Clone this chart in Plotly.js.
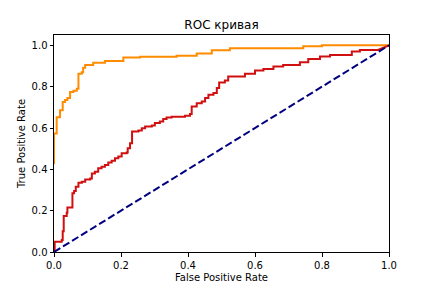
<!DOCTYPE html>
<html>
<head>
<meta charset="utf-8">
<script src="https://cdn.plot.ly/plotly-3.0.1.min.js"></script>
<style>html,body{margin:0;padding:0;background:#fff;}#chart{width:432px;height:288px;}</style>
</head>
<body>
<div id="chart"></div>
<script>
// Orange ROC curve (staircase vertices: top of each vertical step)
var orangeFpr = [0, 0, 0.008, 0.018, 0.026, 0.033, 0.040, 0.048, 0.058, 0.068, 0.073, 0.083, 0.087, 0.093, 0.117, 0.152, 0.207, 0.257, 0.366, 0.426, 0.471, 0.525, 0.744, 0.800, 1.0];
var orangeTpr = [0.425, 0.573, 0.652, 0.686, 0.726, 0.735, 0.745, 0.774, 0.780, 0.790, 0.863, 0.870, 0.892, 0.905, 0.916, 0.924, 0.941, 0.945, 0.950, 0.961, 0.976, 0.986, 0.995, 1.0, 1.0];

// Red ROC curve
var redFpr = [0, 0.002, 0.023, 0.026, 0.029, 0.038, 0.040, 0.055, 0.060, 0.065, 0.073, 0.083, 0.093, 0.108, 0.113, 0.122, 0.132, 0.142, 0.152, 0.162, 0.172, 0.182, 0.192, 0.202, 0.217, 0.220, 0.227, 0.233, 0.252, 0.262, 0.272, 0.292, 0.301, 0.316, 0.326, 0.336, 0.351, 0.391, 0.406, 0.411, 0.426, 0.441, 0.451, 0.461, 0.476, 0.486, 0.493, 0.510, 0.520, 0.570, 0.600, 0.625, 0.655, 0.684, 0.734, 0.759, 0.794, 0.824, 0.889, 0.913, 0.967, 1.0];
var redTpr = [0, 0.050, 0.058, 0.100, 0.174, 0.190, 0.215, 0.284, 0.295, 0.316, 0.335, 0.340, 0.351, 0.356, 0.380, 0.388, 0.405, 0.413, 0.421, 0.433, 0.442, 0.454, 0.462, 0.478, 0.482, 0.502, 0.526, 0.583, 0.588, 0.599, 0.607, 0.612, 0.624, 0.631, 0.643, 0.651, 0.655, 0.659, 0.668, 0.704, 0.720, 0.728, 0.745, 0.761, 0.769, 0.793, 0.820, 0.830, 0.849, 0.862, 0.878, 0.886, 0.897, 0.905, 0.918, 0.934, 0.946, 0.953, 0.970, 0.978, 0.978, 1.0];

// Chance diagonal
var diagX = [0, 1];
var diagY = [0, 1];

var tickVals = [0, 0.2, 0.4, 0.6, 0.8, 1.0];
var tickText = ['0.0', '0.2', '0.4', '0.6', '0.8', '1.0'];

// Build staircase vertices (horizontal then vertical); last segment drawn straight
function stairs(xs, ys, diagonalLast) {
  var vx = [xs[0]], vy = [ys[0]];
  for (var i = 1; i < xs.length; i++) {
    var last = (i === xs.length - 1) && diagonalLast;
    if (!last) { vx.push(xs[i]); vy.push(ys[i - 1]); }
    vx.push(xs[i]); vy.push(ys[i]);
  }
  return {x: vx, y: vy};
}

var o = stairs(orangeFpr, orangeTpr, false);
var r = stairs(redFpr, redTpr, true);

var font = 'DejaVu Sans, sans-serif';
var traces = [
  {x: o.x, y: o.y, mode: 'lines', line: {color: '#ff8c00', width: 2}, hoverinfo: 'skip'},
  {x: r.x, y: r.y, mode: 'lines', line: {color: '#d01010', width: 2}, hoverinfo: 'skip'},
  {x: diagX, y: diagY, mode: 'lines', line: {color: '#000080', width: 2, dash: '7.4px,3.2px'}, hoverinfo: 'skip'}
];

var axisCommon = {
  showgrid: false, zeroline: false, showline: true, mirror: true,
  linecolor: '#000', linewidth: 1,
  ticks: 'outside', ticklen: 3.5, tickwidth: 1, tickcolor: '#000',
  tickvals: tickVals, ticktext: tickText,
  tickfont: {family: font, size: 10, color: '#000'},
  automargin: false
};

var layout = {
  width: 432, height: 288,
  margin: {l: 54, r: 43, t: 35, b: 36, pad: 0},
  paper_bgcolor: '#fff', plot_bgcolor: '#fff',
  showlegend: false,
  title: {text: 'ROC кривая', font: {family: font, size: 12, color: '#000'}, x: 0.5, xref: 'paper', xanchor: 'center', y: 0.913, yref: 'container', yanchor: 'middle'},
  xaxis: Object.assign({}, axisCommon, {range: [0, 1], title: {text: 'False Positive Rate', font: {family: font, size: 10, color: '#000'}, standoff: 4}}),
  yaxis: Object.assign({}, axisCommon, {range: [0, 1.05], title: {text: 'True Positive Rate', font: {family: font, size: 10, color: '#000'}, standoff: 4}})
};

Plotly.newPlot('chart', traces, layout, {staticPlot: true, displayModeBar: false});
</script>
</body>
</html>
